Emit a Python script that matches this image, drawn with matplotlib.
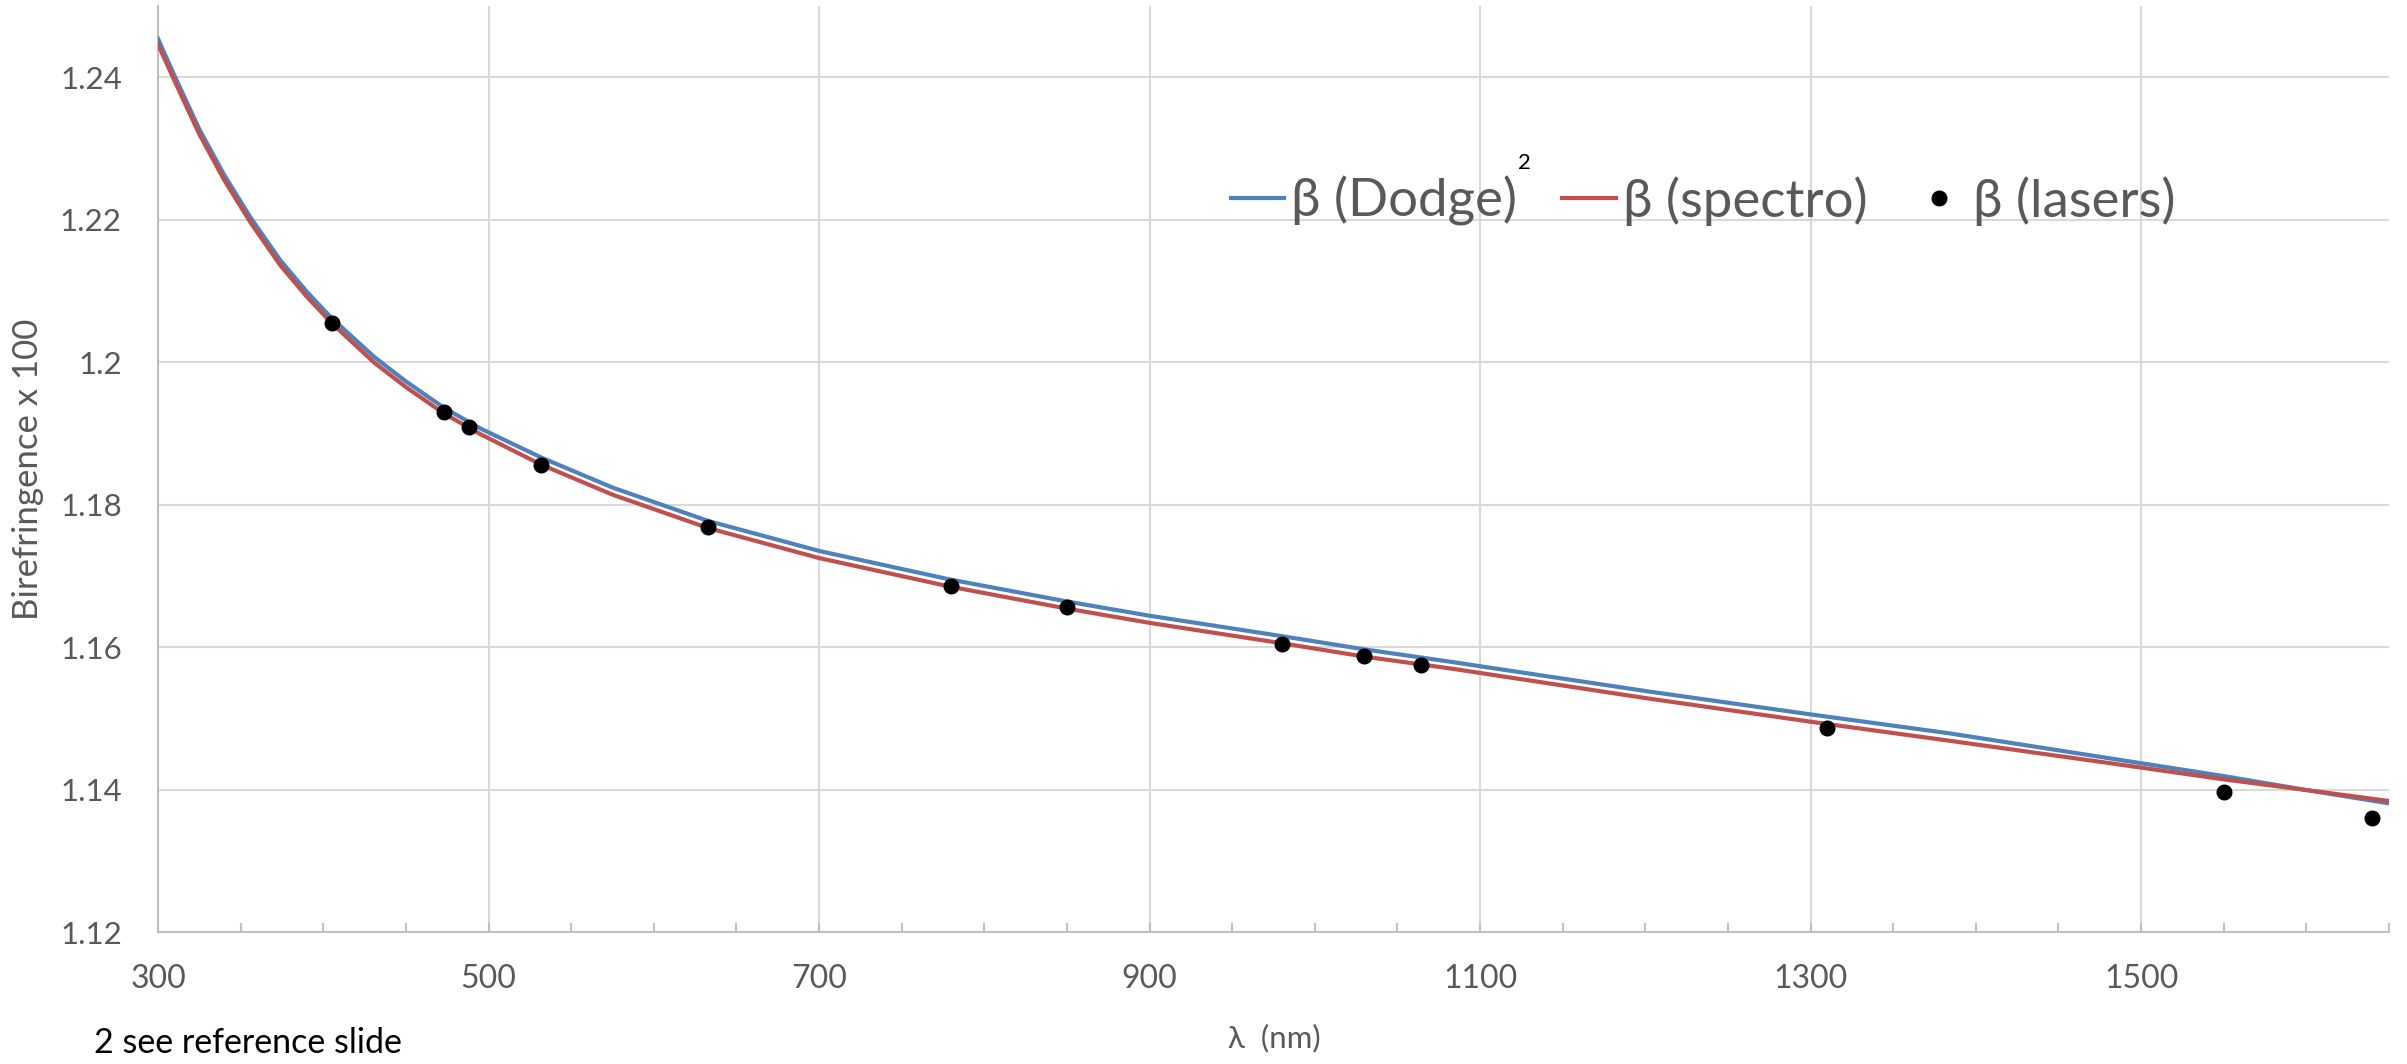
import matplotlib
matplotlib.use("Agg")
import matplotlib.pyplot as plt
from matplotlib.ticker import MultipleLocator, FuncFormatter

plt.rcParams["font.family"] = ["Lato", "DejaVu Sans"]

# --- data ---
dodge_nm = [300, 310, 325, 340, 356, 374, 390, 405, 431, 450,
            473, 495, 532, 575, 633, 700, 779, 850, 900, 980,
            1030, 1082, 1203, 1300, 1384, 1475, 1550, 1600, 1650]
dodge_beta = [1.2454, 1.2402, 1.2327, 1.2263, 1.2203, 1.2143, 1.2099, 1.2062, 1.2007, 1.1973,
              1.1936, 1.1907, 1.1866, 1.1824, 1.1777, 1.1735, 1.1695, 1.1664, 1.1644, 1.16154,
              1.15968, 1.15794, 1.15373, 1.15055, 1.14789, 1.14460, 1.14189, 1.13993, 1.13806]

spectro_nm = [300, 310, 325, 340, 356, 374, 390, 405, 431, 450,
              473, 495, 532, 575, 633, 700, 779, 850, 900, 980,
              1030, 1082, 1203, 1300, 1384, 1475, 1550, 1600, 1650]
spectro_beta = [1.2446, 1.2395, 1.2320, 1.2256, 1.2196, 1.2136, 1.2092, 1.2055, 1.1999, 1.1965,
                1.1928, 1.1899, 1.1856, 1.1814, 1.1767, 1.1725, 1.1685, 1.1654, 1.1634, 1.16054,
                1.15866, 1.15700, 1.15274, 1.14952, 1.14685, 1.14390, 1.14143, 1.13993, 1.13839]

laser_nm = [405, 473, 488, 532, 633, 780, 850, 980, 1030, 1064, 1310, 1550, 1640]
laser_beta = [1.2055, 1.1930, 1.1909, 1.1855, 1.1769, 1.1686, 1.1656,
              1.1605, 1.1587, 1.1575, 1.1487, 1.1397, 1.1360]

BLUE = "#4F81BD"
RED = "#C0504D"
GRID = "#D9D9D9"
TEXT = "#595959"

W, H = 2407, 1064
fig = plt.figure(figsize=(W / 100, H / 100), dpi=100)
ax = fig.add_axes([158 / W, 1 - 932 / H, (2389 - 158) / W, (932 - 6) / H])

ax.plot(dodge_nm, dodge_beta, color=BLUE, lw=3, label="β (Dodge)", zorder=3)
ax.plot(spectro_nm, spectro_beta, color=RED, lw=3, label="β (spectro)", zorder=3)
ax.plot(laser_nm, laser_beta, "o", color="black", ms=10.5, lw=0, label="β (lasers)", zorder=4)

ax.set_xlim(300, 1650)
ax.set_ylim(1.12, 1.25)
ax.xaxis.set_major_locator(MultipleLocator(200, offset=100))
ax.xaxis.set_minor_locator(MultipleLocator(50))
ax.yaxis.set_major_locator(MultipleLocator(0.02))
ax.yaxis.set_major_formatter(FuncFormatter(lambda v, p: f"{v:.2f}".rstrip("0").rstrip(".")))
ax.grid(True, which="major", color=GRID, lw=1.5)
ax.set_axisbelow(True)

for s in ["top", "right"]:
    ax.spines[s].set_visible(False)
for s in ["left", "bottom"]:
    ax.spines[s].set_color("#BFBFBF")
    ax.spines[s].set_linewidth(1.5)

ax.tick_params(axis="x", which="both", direction="in", length=6.5, width=1.5,
               color="#BFBFBF", labelsize=23, labelcolor=TEXT, pad=23)
ax.tick_params(axis="y", length=0, labelsize=22.5, labelcolor=TEXT, pad=26)

leg = ax.legend(ncol=3, loc="center", bbox_to_anchor=(1703 / W, 1 - 201 / H),
                bbox_transform=fig.transFigure, frameon=False, fontsize=38,
                handlelength=1.02, handletextpad=0.13, columnspacing=0.85,
                labelcolor=TEXT, borderpad=0)
fig.text(1524 / W, 1 - 163 / H, "2", fontsize=16, color="black", ha="center", va="center")

fig.text(28 / W, 1 - 469 / H, "Birefringence x 100", rotation=90, fontsize=25,
         color=TEXT, ha="center", va="center")
fig.text(1274 / W, 1 - 1038 / H, "λ  (nm)", fontsize=22.5, color=TEXT, ha="center", va="center")
fig.text(94 / W, 1 - 1043 / H, "2 see reference slide", fontsize=24.5, color="black",
         ha="left", va="center")

fig.savefig("out.png", dpi=100)
